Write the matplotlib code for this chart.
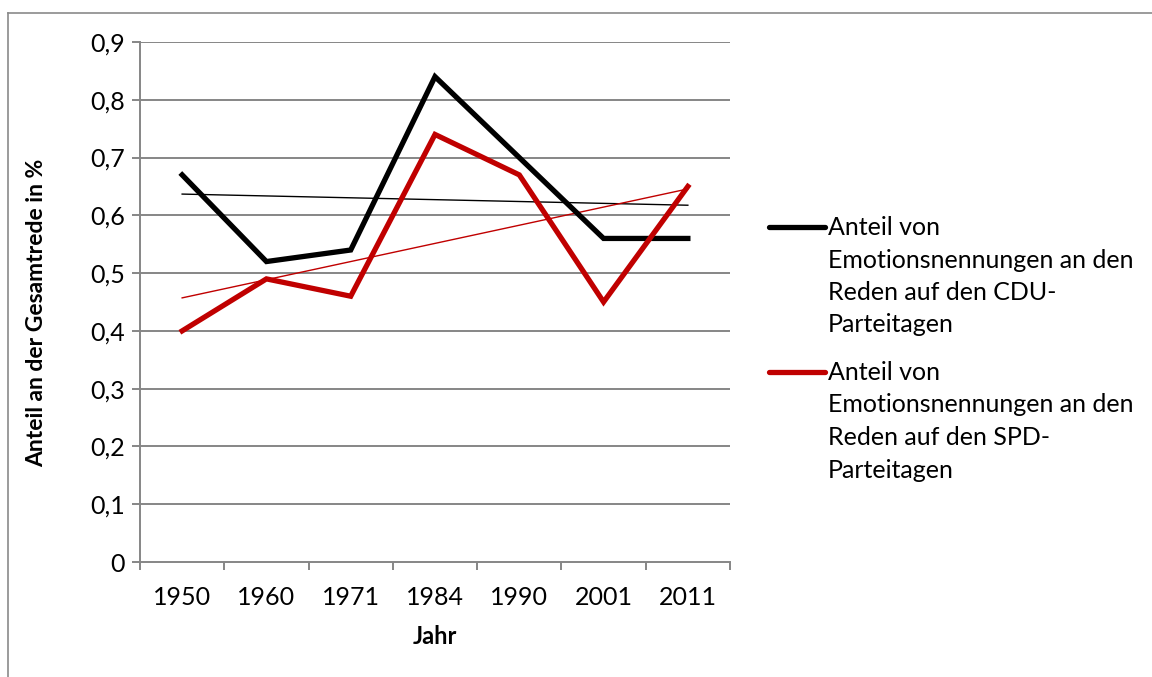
import numpy as np
import matplotlib.pyplot as plt
from matplotlib.lines import Line2D

years = ['1950', '1960', '1971', '1984', '1990', '2001', '2011']
cdu = [0.67, 0.52, 0.54, 0.84, 0.70, 0.56, 0.56]
spd = [0.40, 0.49, 0.46, 0.74, 0.67, 0.45, 0.65]
labels = ['Anteil von\nEmotionsnennungen an den\nReden auf den CDU-\nParteitagen',
          'Anteil von\nEmotionsnennungen an den\nReden auf den SPD-\nParteitagen']
colors = ['#000000', '#C00000']
yticks = [0, 0.1, 0.2, 0.3, 0.4, 0.5, 0.6, 0.7, 0.8, 0.9]

plt.rcParams['font.family'] = ['Lato', 'DejaVu Sans']
W, H = 1152, 677
fig = plt.figure(figsize=(W/100, H/100), dpi=100)
ax = fig.add_axes([140/W, 1-562/H, 590/W, 520/H])

x = np.arange(1, len(years)+1)
grid_c = '#868686'
for yv in yticks[1:]:
    ax.axhline(yv, color=grid_c, lw=1.4, zorder=1)

for vals, c in zip([cdu, spd], colors):
    ax.plot(x, vals, color=c, lw=3.8, solid_joinstyle='miter', zorder=3)
    k, b = np.polyfit(x, vals, 1)
    ax.plot(x, k*x+b, color=c, lw=1.0, zorder=2)

ax.set_xlim(0.5, 7.5)
ax.set_ylim(0, 0.9)
ax.set_xticks(x)
ax.set_xticklabels(years)
ax.set_xticks(np.arange(0.5, 8, 1), minor=True)
ax.set_yticks(yticks)
ax.set_yticklabels([('%g' % v).replace('.', ',') for v in yticks])
ax.tick_params(axis='x', which='major', length=0, pad=17, labelsize=18)
ax.tick_params(axis='x', which='minor', length=6, width=1.4, color=grid_c, direction='out')
ax.tick_params(axis='y', length=6, width=1.4, color=grid_c, pad=5, labelsize=18)
for s in ['top', 'right']:
    ax.spines[s].set_visible(False)
for s in ['left', 'bottom']:
    ax.spines[s].set_color(grid_c)
    ax.spines[s].set_linewidth(1.4)

ax.set_ylabel('Anteil an der Gesamtrede in %', fontsize=16.5, fontweight='bold')
ax.yaxis.set_label_coords((47-140)/590, 1-(313-42)/520)
ax.set_xlabel('Jahr', fontsize=17, fontweight='bold', labelpad=12)

# legend, drawn by hand so the handle sits on the first line
for i, (lab, c) in enumerate(zip(labels, colors)):
    yy = 1 - (227 + i*145)/H
    fig.add_artist(Line2D([769/W, 825/W], [yy, yy], color=c, lw=3.8,
                          solid_capstyle='round'))
    fig.text(828/W, yy + 11/H, lab, fontsize=18, va='top', ha='left',
             linespacing=1.5)

# outer chart border (left and top only)
fig.add_artist(Line2D([8/W, 8/W], [0, 1-12.5/H], color='#8a8a8a', lw=1.2))
fig.add_artist(Line2D([8/W, 1], [1-12.5/H, 1-12.5/H], color='#8a8a8a', lw=1.2))

fig.savefig('out.png', dpi=100)
